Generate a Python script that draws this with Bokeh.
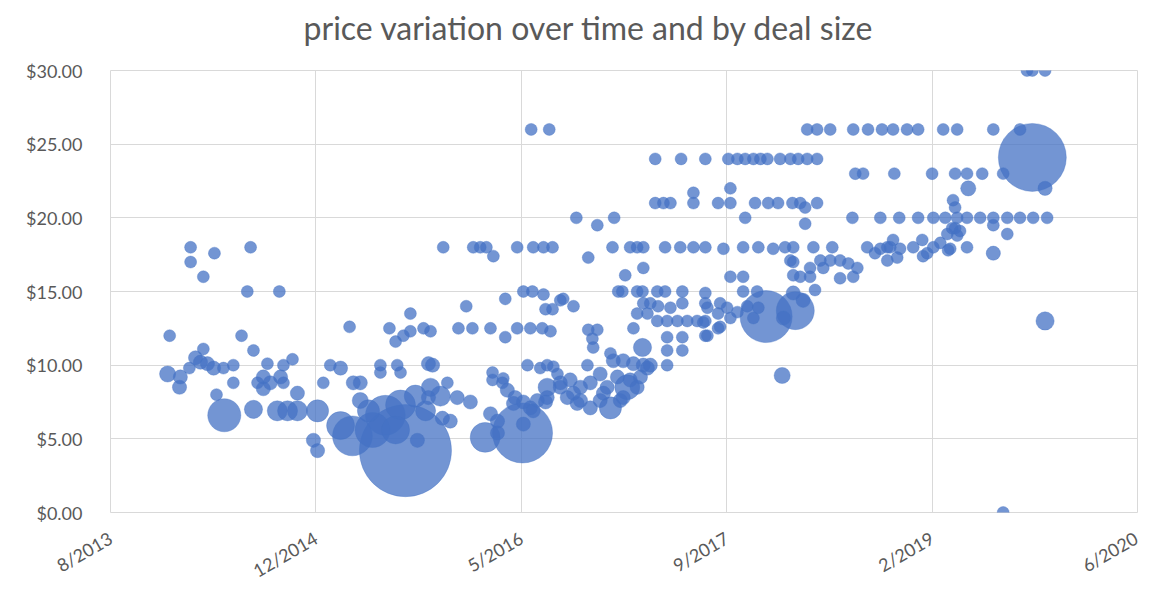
import math
import numpy as np
import pandas as pd
from bokeh.plotting import figure
from bokeh.layouts import column
from bokeh.models import ColumnDataSource, FixedTicker, NumeralTickFormatter, Range1d, Div
from bokeh.embed import file_html
from bokeh.resources import INLINE

TITLE = "price variation over time and by deal size"

# Deal dates as Excel serial day numbers
deal_date = [
    41639, 41644, 41668, 41670, 41692, 41695, 41695, 41707, 41719, 41726,
    41726, 41736, 41751, 41753, 41758, 41775, 41777, 41799, 41799, 41819,
    41833, 41841, 41848, 41848, 41858, 41872, 41872, 41882, 41889, 41906,
    41911, 41914, 41921, 41921, 41931, 41943, 41955, 41955, 41994, 42004,
    42004, 42018, 42035, 42060, 42082, 42091, 42108, 42060, 42089, 42138,
    42169, 42206, 42194, 42242, 42267, 42303, 42128, 42108, 42218, 42157,
    42198, 42157, 42206, 42179, 42194, 42213, 42230, 42230, 42262, 42279,
    42274, 42284, 42279, 42274, 42320, 42247, 42308, 42327, 42310, 42344,
    42376, 42347, 42381, 42366, 42383, 42400, 42415, 42432, 42425, 42461,
    42461, 42490, 42490, 42505, 42527, 42524, 42568, 42529, 42554, 42576,
    42522, 42551, 42571, 42554, 42559, 42595, 42430, 42430, 42456, 42412,
    42503, 42442, 42454, 42466, 42485, 42505, 42522, 42539, 42563, 42563,
    42505, 42425, 42442, 42481, 42515, 42546, 42563, 42578, 42559, 42529,
    42588, 42595, 42595, 42612, 42619, 42627, 42636, 42644, 42644, 42661,
    42668, 42668, 42692, 42692, 42700, 42717, 42717, 42724, 42734, 42741,
    42748, 42748, 42758, 42765, 42773, 42782, 42790, 42797, 42807, 42814,
    42709, 42576, 42602, 42627, 42634, 42685, 42726, 42663, 42663, 42685,
    42673, 42675, 42722, 42765, 42782, 42797, 42753, 42797, 42736, 42746,
    42782, 42795, 42773, 42795, 42797, 42814, 42833, 42863, 42892, 42782,
    42807, 42831, 42855, 42880, 42904, 42928, 42943, 42831, 42850, 42892,
    42948, 42855, 42892, 42855, 42892, 42855, 42826, 42889, 42948, 42826,
    42846, 42863, 42919, 42919, 42850, 42887, 42919, 42948, 42948, 42979,
    42948, 42984, 43001, 42979, 43009, 43009, 42992, 43004, 43026, 43045,
    43065, 43082, 43099, 43130, 43155, 43174, 43196, 43220, 43009, 43040,
    43040, 43074, 43040, 43077, 43113, 43142, 43162, 43211, 43257, 43045,
    43069, 43101, 43125, 43160, 43179, 43191, 43220, 43191, 43026, 43050,
    43065, 43077, 42948, 42953, 42979, 43009, 42984, 42953, 43096, 43167,
    43135, 43138, 43162, 43186, 43215, 43155, 43162, 43162, 43179, 43203,
    43203, 43228, 43235, 43252, 43276, 43276, 43296, 43308, 43318, 43196,
    43220, 43252, 43308, 43344, 43378, 43405, 43439, 43466, 43527, 43561,
    43649, 43714, 43313, 43332, 43408, 43500, 43556, 43585, 43622, 43673,
    43588, 43775, 43306, 43374, 43420, 43466, 43503, 43532, 43561, 43585,
    43617, 43649, 43683, 43714, 43746, 43780, 43551, 43556, 43649, 43683,
    43556, 43561, 43544, 43585, 43649, 43744, 43731, 43744, 43775, 43775,
    43673, 43342, 43361, 43391, 43405, 43422, 43454, 43476, 43488, 43503,
    43520, 43537, 43549, 43568, 43391, 43415, 43478, 43539, 43374, 43398,
]

# Price per unit ($)
price = [
    9.4, 12.0, 8.5, 9.2, 9.8, 18.0, 17.0, 10.5, 10.2, 11.1,
    16.0, 10.1, 9.8, 17.6, 8.0, 9.8, 6.6, 10.0, 8.8, 12.0,
    15.0, 18.0, 11.0, 7.0, 8.8, 9.2, 8.4, 10.1, 8.8, 6.9,
    15.0, 9.2, 10.0, 8.8, 6.9, 10.4, 8.1, 6.9, 4.9, 4.2,
    6.9, 8.8, 10.0, 9.8, 12.6, 8.8, 8.8, 5.9, 5.2, 5.6,
    6.6, 7.3, 5.6, 7.9, 6.9, 7.9, 6.9, 7.6, 4.2, 10.0,
    10.0, 9.5, 9.5, 12.5, 11.6, 12.0, 13.5, 12.3, 12.5, 12.3,
    10.1, 10.0, 8.5, 7.8, 8.8, 4.9, 6.4, 6.2, 18.0, 7.8,
    7.5, 12.5, 12.5, 14.0, 18.0, 18.0, 18.0, 17.4, 12.5, 14.5,
    11.9, 18.0, 12.5, 15.0, 15.0, 26.0, 26.0, 18.0, 18.0, 18.0,
    12.5, 12.5, 12.3, 14.8, 13.8, 14.4, 9.5, 9.0, 9.1, 5.1,
    5.4, 5.4, 8.8, 8.3, 7.8, 7.5, 7.1, 7.6, 8.5, 7.8,
    6.0, 6.7, 6.2, 7.4, 10.0, 9.8, 10.0, 9.9, 7.5, 6.9,
    9.4, 8.8, 8.5, 7.8, 9.0, 8.1, 7.4, 8.5, 7.6, 10.0,
    8.8, 7.1, 9.4, 7.6, 8.1, 7.1, 10.8, 10.3, 9.2, 7.6,
    10.3, 7.8, 8.5, 9.0, 10.1, 8.5, 9.2, 10.0, 9.8, 10.0,
    8.5, 13.8, 14.5, 14.0, 20.0, 19.5, 20.0, 17.3, 12.4, 12.4,
    11.8, 11.2, 18.0, 18.0, 18.0, 18.0, 16.1, 16.6, 15.0, 15.0,
    15.0, 15.0, 12.5, 11.2, 14.2, 14.2, 14.0, 13.9, 14.2, 13.5,
    13.5, 13.0, 13.0, 13.0, 13.0, 13.0, 12.9, 15.0, 15.0, 15.0,
    14.9, 11.9, 11.9, 11.0, 11.0, 10.0, 24.0, 24.0, 24.0, 21.0,
    21.0, 21.0, 21.0, 21.7, 18.0, 18.0, 18.0, 18.0, 12.0, 12.5,
    14.2, 14.2, 13.9, 21.0, 21.0, 22.0, 17.9, 24.0, 24.0, 24.0,
    24.0, 24.0, 24.0, 24.0, 24.0, 24.0, 24.0, 24.0, 16.0, 16.0,
    15.0, 15.0, 18.0, 18.0, 17.9, 18.0, 18.0, 18.0, 18.0, 20.0,
    21.0, 21.0, 21.0, 21.0, 21.0, 20.7, 21.0, 19.6, 13.6, 14.0,
    13.2, 13.9, 13.0, 13.9, 13.5, 13.2, 12.6, 12.0, 13.3, 13.7,
    9.3, 13.2, 14.9, 14.4, 15.1, 17.1, 17.0, 16.1, 16.0, 16.6,
    16.0, 17.1, 16.6, 17.1, 17.1, 15.9, 16.9, 16.0, 16.6, 26.0,
    26.0, 26.0, 26.0, 26.0, 26.0, 26.0, 26.0, 26.0, 26.0, 26.0,
    26.0, 26.0, 23.0, 23.0, 23.0, 23.0, 23.0, 23.0, 23.0, 23.0,
    22.0, 22.0, 20.0, 20.0, 20.0, 20.0, 20.0, 20.0, 20.0, 20.0,
    20.0, 20.0, 20.0, 20.0, 20.0, 20.0, 21.2, 20.7, 19.5, 18.9,
    19.3, 18.8, 17.9, 18.0, 17.6, 24.1, 30.0, 30.0, 30.0, 13.0,
    0.0, 18.0, 17.6, 18.0, 18.5, 17.9, 18.0, 18.5, 17.6, 18.0,
    18.3, 18.9, 19.3, 19.1, 17.1, 17.3, 17.4, 17.8, 17.9, 18.0,
]

# Deal size (relative volume units)
deal_size = [
    18, 10, 14, 14, 10, 10, 10, 14, 14, 10,
    10, 14, 14, 10, 10, 10, 76, 10, 10, 10,
    10, 10, 10, 23, 10, 14, 14, 10, 14, 28,
    10, 14, 10, 10, 28, 10, 14, 28, 14, 14,
    34, 10, 10, 14, 10, 14, 14, 54, 110, 85,
    110, 62, 54, 34, 28, 28, 34, 18, 588, 10,
    10, 10, 10, 10, 10, 10, 10, 10, 10, 10,
    14, 14, 23, 14, 10, 14, 14, 14, 10, 14,
    14, 10, 10, 10, 10, 10, 10, 10, 10, 10,
    10, 10, 10, 10, 10, 10, 10, 10, 10, 10,
    10, 10, 10, 10, 10, 10, 10, 10, 10, 62,
    250, 14, 10, 14, 14, 14, 14, 14, 23, 14,
    14, 14, 14, 14, 10, 10, 10, 10, 14, 14,
    10, 14, 14, 14, 14, 14, 14, 14, 14, 10,
    14, 14, 14, 14, 14, 34, 10, 14, 14, 14,
    14, 14, 43, 14, 14, 14, 14, 14, 14, 14,
    14, 10, 10, 10, 10, 10, 10, 10, 10, 10,
    10, 10, 10, 10, 10, 10, 10, 10, 10, 10,
    10, 10, 10, 23, 10, 10, 10, 10, 10, 10,
    10, 10, 10, 10, 10, 10, 10, 10, 10, 10,
    10, 10, 10, 10, 10, 10, 10, 10, 10, 10,
    10, 10, 10, 10, 10, 10, 10, 10, 10, 10,
    10, 10, 10, 10, 10, 10, 10, 10, 10, 10,
    10, 10, 10, 10, 10, 10, 10, 10, 10, 10,
    10, 10, 10, 10, 10, 10, 10, 10, 10, 10,
    10, 10, 10, 10, 10, 10, 10, 10, 10, 10,
    10, 10, 10, 10, 10, 10, 10, 10, 188, 100,
    18, 14, 14, 14, 10, 10, 10, 10, 10, 10,
    10, 10, 10, 10, 10, 10, 10, 10, 10, 10,
    10, 10, 10, 10, 10, 10, 10, 10, 10, 10,
    10, 10, 10, 10, 10, 10, 10, 10, 10, 10,
    16, 14, 10, 10, 10, 10, 10, 10, 10, 10,
    10, 10, 10, 10, 10, 10, 10, 10, 10, 10,
    10, 10, 10, 10, 14, 320, 10, 10, 10, 23,
    10, 10, 10, 10, 10, 10, 10, 10, 10, 10,
    10, 10, 10, 10, 10, 10, 10, 10, 10, 10,
]

x_tick_serials = [41500, 42000, 42500, 43000, 43500, 44000]
x_tick_labels = ["8/2013", "12/2014", "5/2016", "9/2017", "2/2019", "6/2020"]
y_ticks = [0, 5, 10, 15, 20, 25, 30]


def serial_to_ms(s):
    return (s - 25569) * 86400000.0


n = min(len(deal_date), len(price), len(deal_size))
df = pd.DataFrame({
    "x": [serial_to_ms(s) for s in deal_date[:n]],
    "y": price[:n],
    "v": deal_size[:n],
})
df["d"] = 3.8 * np.sqrt(df["v"])
df = df.sort_values("v", ascending=False, kind="stable")
src = ColumnDataSource(df)

FONT = "Lato"
GREY = "#595959"
GRID = "#d9d9d9"
W = 1141
TITLE_H = 56

title_div = Div(
    text=TITLE, width=W, height=TITLE_H, margin=(0, 0, 0, 0),
    styles={
        "font-family": FONT, "font-size": "32px", "color": GREY,
        "line-height": f"{TITLE_H}px", "text-align": "center",
        "padding-left": "35px", "box-sizing": "border-box",
        "white-space": "nowrap", "background": "white",
    },
)

p = figure(
    width=W, height=594 - TITLE_H,
    x_axis_type="datetime",
    x_range=Range1d(serial_to_ms(x_tick_serials[0]), serial_to_ms(x_tick_serials[-1])),
    y_range=Range1d(y_ticks[0], y_ticks[-1]),
    output_backend="svg", toolbar_location=None,
    min_border_left=110, min_border_right=4,
    min_border_top=70 - TITLE_H, min_border_bottom=82,
    margin=(0, 0, 0, 0),
)

p.scatter("x", "y", size="d", source=src, marker="circle",
          fill_color="#4472C4", fill_alpha=0.75,
          line_color="#4472C4", line_alpha=0.35, line_width=1)

tick_ms = [serial_to_ms(s) for s in x_tick_serials]
p.xaxis.ticker = FixedTicker(ticks=tick_ms)
p.xaxis.major_label_overrides = {t: lab for t, lab in zip(tick_ms, x_tick_labels)}
p.xaxis.major_label_orientation = math.pi / 6
p.yaxis.ticker = FixedTicker(ticks=y_ticks)
p.yaxis.formatter = NumeralTickFormatter(format="$0.00")

for ax in (p.xaxis, p.yaxis):
    ax.axis_line_color = None
    ax.major_tick_line_color = None
    ax.minor_tick_line_color = None
    ax.major_label_text_font = FONT
    ax.major_label_text_font_size = "18px"
    ax.major_label_text_color = GREY
p.yaxis.major_label_standoff = 22
p.xaxis.major_label_standoff = 18

p.xgrid.grid_line_color = GRID
p.ygrid.grid_line_color = GRID
p.outline_line_color = GRID

p.background_fill_color = "white"
p.border_fill_color = "white"

layout = column(title_div, p, spacing=0)

open("out.html", "w").write(file_html(layout, INLINE))
